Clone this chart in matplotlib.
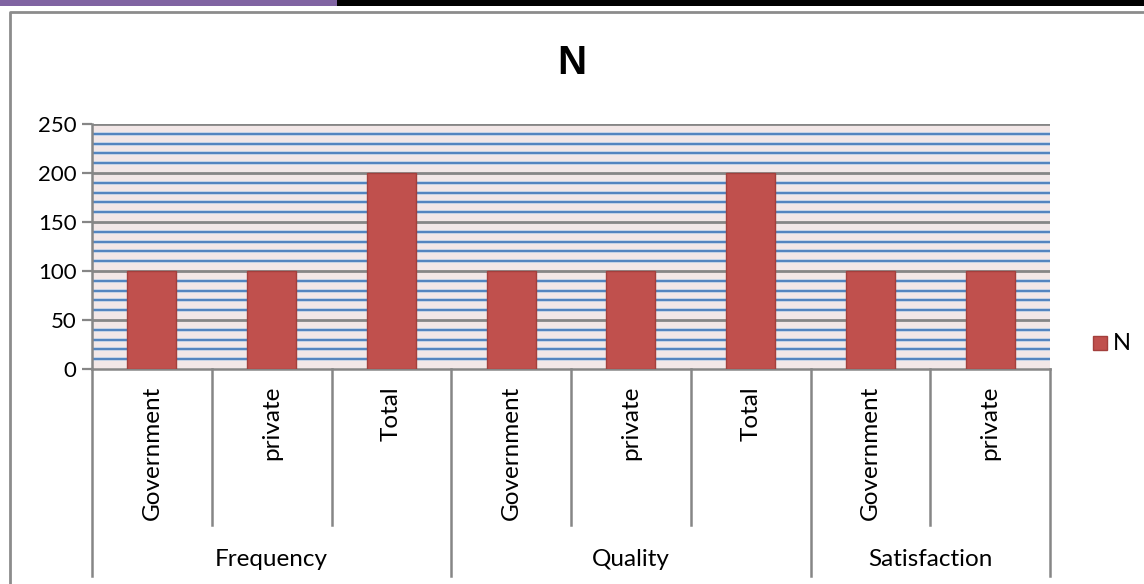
import numpy as np
import matplotlib.pyplot as plt
from matplotlib.patches import Rectangle
from matplotlib.lines import Line2D
import matplotlib.transforms as mtransforms

# data
groups = ['Frequency', 'Quality', 'Satisfaction']
group_sizes = [3, 3, 2]
sub_labels = ['Government', 'private', 'Total',
              'Government', 'private', 'Total',
              'Government', 'private']
values = [100, 100, 200, 100, 100, 200, 100, 100]

W, H = 1144, 584
fig = plt.figure(figsize=(W / 100, H / 100), dpi=100)
fig.patch.set_facecolor('white')

# header strip and chart frame
fig.add_artist(Rectangle((0, 1 - 6 / H), 337 / W, 6 / H, transform=fig.transFigure,
                         facecolor='#8064A2', edgecolor='none'))
fig.add_artist(Rectangle((337 / W, 1 - 6 / H), 1 - 337 / W, 6 / H, transform=fig.transFigure,
                         facecolor='black', edgecolor='none'))
fig.add_artist(Line2D([10 / W, 10 / W, 1.0], [0, 1 - 12 / H, 1 - 12 / H],
                      transform=fig.transFigure, color='#8c8c8c', lw=2))

ax = fig.add_axes([92 / W, 1 - 369 / H, (1050 - 92) / W, (369 - 124) / H])
ax.set_facecolor('#F2E7E7')
x = np.arange(len(values))
ax.set_xlim(-0.5, len(values) - 0.5)
ax.set_ylim(0, 250)

# minor blue grid every 10, gray major every 50
for yv in np.arange(10, 251, 10):
    if yv % 50 == 0:
        ax.axhline(yv, color='#868686', lw=2, zorder=1)
    else:
        ax.axhline(yv, color='#B9CDE5', lw=2.6, zorder=1)
        ax.axhline(yv, color='#4A7EBB', lw=1.3, zorder=1)

ax.bar(x, values, width=0.41, color='#C0504D', edgecolor='#A33F3C', lw=1, zorder=3)

ax.set_yticks([0, 50, 100, 150, 200, 250])
ax.tick_params(axis='y', length=7, width=1.6, color='#868686', labelsize=16, pad=4)
ax.set_xticks([])
for s in ['top', 'right']:
    ax.spines[s].set_visible(False)
for s in ['left', 'bottom']:
    ax.spines[s].set_color('#868686')
    ax.spines[s].set_linewidth(1.8)
for lab in ax.get_yticklabels():
    lab.set_fontfamily('Lato')

# two-level category axis
tr = mtransforms.blended_transform_factory(ax.transData, fig.transFigure)
bounds = np.concatenate([[0], np.cumsum(group_sizes)]) - 0.5
for i in range(len(values) + 1):
    xb = i - 0.5
    bottom = 8 / H if xb in bounds else 1 - 525 / H
    ax.add_line(Line2D([xb, xb], [1 - 369 / H, bottom], transform=tr,
                       color='#868686', lw=1.8, clip_on=False))
for i, lab in enumerate(sub_labels):
    ax.text(i, 1 - 386 / H, lab, transform=tr, rotation=90, ha='center', va='top',
            fontsize=17.5, family='Lato')
for g, name in enumerate(groups):
    xc = (bounds[g] + bounds[g + 1]) / 2
    ax.text(xc, 1 - 560 / H, name, transform=tr, ha='center', va='center',
            fontsize=17.5, family='Lato')

fig.text(572 / W, 1 - 63 / H, 'N', ha='center', va='center', fontsize=29,
         fontweight='bold', family='Liberation Sans')

# legend
fig.add_artist(Rectangle((1093 / W, 1 - 350 / H), 14 / W, 14 / H, transform=fig.transFigure,
                         facecolor='#C0504D', edgecolor='#A33F3C', lw=1))
fig.text(1113 / W, 1 - 343 / H, 'N', ha='left', va='center', fontsize=17, family='Lato')

fig.savefig('out.png', dpi=100)
